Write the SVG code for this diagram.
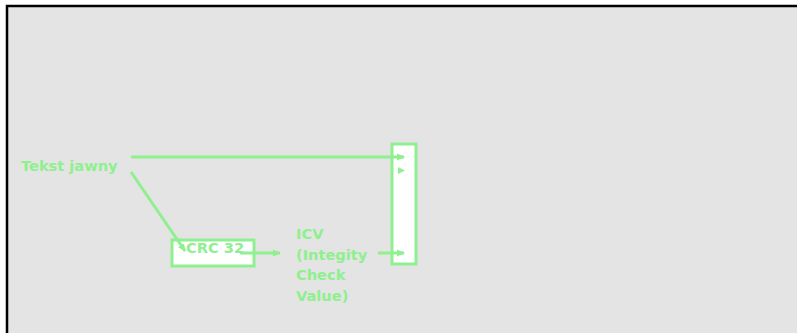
<svg xmlns="http://www.w3.org/2000/svg" width="797" height="333" viewBox="0 0 797 333">
  <defs>
    <marker id="arrow" markerWidth="8" markerHeight="8" refX="7" refY="4" orient="auto" markerUnits="userSpaceOnUse">
      <path d="M0,0.5 L8,4 L0,7.5 Z" fill="#8ef08e"/>
    </marker>
  </defs>
  <style>
    .lbl { font-family: "DejaVu Sans", sans-serif; font-weight: bold; font-size: 14.6px; fill: #8ef08e; }
    .box { fill: #ffffff; stroke: #8ef08e; stroke-width: 3; }
    .edge { stroke: #8ef08e; stroke-width: 3; fill: none; }
  </style>
  <rect x="0" y="0" width="797" height="333" fill="#ffffff"/>
  <rect x="7" y="6" width="793" height="330" fill="#e4e4e4" stroke="#000000" stroke-width="2.5"/>

  <g id="plaintext">
    <text class="lbl" x="21" y="171">Tekst jawny</text>
  </g>
  <g id="crc32">
    <rect class="box" x="172" y="240" width="82" height="26"/>
    <text class="lbl" x="186" y="253">CRC 32</text>
  </g>
  <g id="icv">
    <text class="lbl" x="296" y="239">ICV</text>
    <text class="lbl" x="296" y="260">(Integity</text>
    <text class="lbl" x="296" y="280">Check</text>
    <text class="lbl" x="296" y="301">Value)</text>
  </g>
  <g id="output">
    <rect class="box" x="392" y="144" width="24" height="120"/>
    <path d="M398,167 L405,170.5 L398,174 Z" fill="#8ef08e"/>
  </g>

  <g id="connectors">
    <line class="edge" x1="131" y1="157" x2="404" y2="157" marker-end="url(#arrow)"/>
    <line class="edge" x1="131" y1="172" x2="185" y2="251" marker-end="url(#arrow)"/>
    <line class="edge" x1="240" y1="253" x2="280" y2="253" marker-end="url(#arrow)"/>
    <line class="edge" x1="378" y1="253" x2="404" y2="253" marker-end="url(#arrow)"/>
  </g>
</svg>
